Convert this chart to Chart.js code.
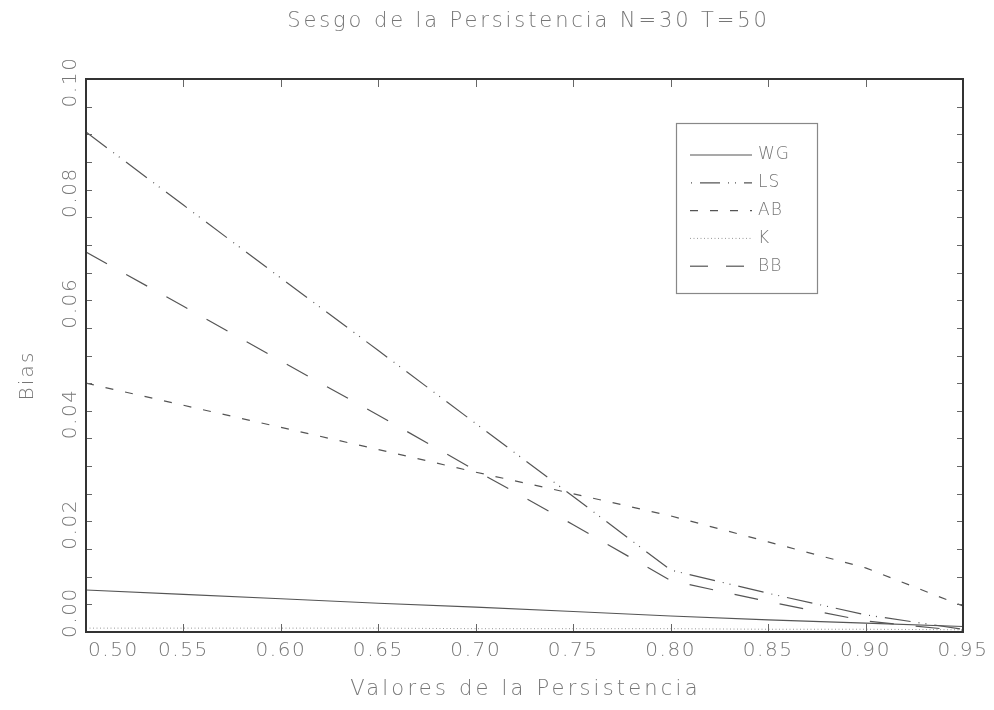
<!DOCTYPE html>
<html>
<head>
<meta charset="utf-8">
<script src="https://cdn.jsdelivr.net/npm/chart.js@4"></script>
<style>
html,body{margin:0;padding:0;background:#fff;}
#wrap{width:994px;height:710px;}
</style>
</head>
<body>
<div id="wrap"><canvas id="c" width="994" height="710"></canvas></div>
<script>
// ---- data ----
const persistence = [0.50, 0.55, 0.60, 0.65, 0.70, 0.75, 0.80, 0.85, 0.90, 0.95];
const WG = [0.0076, 0.0068, 0.0060, 0.0052, 0.0045, 0.0037, 0.0029, 0.0022, 0.0016, 0.0010];
const LS = [0.0904, 0.0772, 0.0640, 0.0509, 0.0377, 0.0245, 0.0112, 0.0070, 0.0031, 0.0005];
const AB = [0.0450, 0.0410, 0.0370, 0.0330, 0.0289, 0.0250, 0.0210, 0.0163, 0.0116, 0.0047];
const K  = [0.0007, 0.0007, 0.0007, 0.0007, 0.0006, 0.0006, 0.0006, 0.0005, 0.0005, 0.0004];
const BB = [0.0687, 0.0589, 0.0490, 0.0392, 0.0292, 0.0194, 0.0093, 0.0055, 0.0020, 0.0002];
const xTickLabels = ['0.50','0.55','0.60','0.65','0.70','0.75','0.80','0.85','0.90','0.95'];
const yTickLabels = ['0.00','0.02','0.04','0.06','0.08','0.10'];
const yMinorTicks = [0.005,0.010,0.015,0.020,0.025,0.030,0.035,0.040,0.045,0.050,0.055,0.060,0.065,0.070,0.075,0.080,0.085,0.090,0.095];
const titleText = 'Sesgo de la Persistencia N=30 T=50';
const xTitle = 'Valores de la Persistencia';
const yTitle = 'Bias';
const seriesNames = ['WG','LS','AB','K','BB'];
const seriesValues = [WG, LS, AB, K, BB];

// ---- styles ----
const FONT = "200 {S}px 'DejaVu Sans', 'Liberation Sans', sans-serif";
const font = s => FONT.replace('{S}', s);
const TEXT = '#767676';
const styles = {
  WG: {dash: [], color: '#555', width: 1.1},
  LS: {dash: [26, 8, 1, 6, 1, 8], color: '#555', width: 1.2},
  AB: {dash: [8, 12], color: '#555', width: 1.2},
  K:  {dash: [1, 2.5], color: '#999', width: 1},
  BB: {dash: [24, 22], color: '#555', width: 1.2}
};

const datasets = seriesNames.map((n, i) => ({
  label: n,
  data: persistence.map((x, j) => ({x: x, y: seriesValues[i][j]})),
  borderColor: styles[n].color,
  borderWidth: styles[n].width,
  borderDash: styles[n].dash,
  pointRadius: 0,
  tension: 0,
  fill: false
}));

function text(ctx, str, x, y, size, align, baseline, rot, spacing) {
  ctx.save();
  ctx.font = font(size);
  ctx.fillStyle = TEXT;
  ctx.textAlign = align;
  ctx.textBaseline = baseline;
  if ('letterSpacing' in ctx) ctx.letterSpacing = (spacing || 0) + 'px';
  ctx.translate(x, y);
  if (rot) ctx.rotate(rot);
  ctx.fillText(str, 0, 0);
  ctx.restore();
}

const decor = {
  id: 'decor',
  afterDraw(chart) {
    const ctx = chart.ctx, a = chart.chartArea;
    const xs = chart.scales.x, ys = chart.scales.y;
    ctx.save();
    // ticks
    ctx.strokeStyle = '#666';
    ctx.lineWidth = 1;
    ctx.setLineDash([]);
    xTickLabels.forEach(l => {
      const px = Math.round(xs.getPixelForValue(parseFloat(l))) + 0.5;
      ctx.beginPath();
      ctx.moveTo(px, a.bottom); ctx.lineTo(px, a.bottom - 8);
      ctx.moveTo(px, a.top); ctx.lineTo(px, a.top + 8);
      ctx.stroke();
    });
    yMinorTicks.forEach(v => {
      const py = Math.round(ys.getPixelForValue(v)) + 0.5;
      ctx.beginPath();
      ctx.moveTo(a.left, py); ctx.lineTo(a.left + 6, py);
      ctx.moveTo(a.right, py); ctx.lineTo(a.right - 6, py);
      ctx.stroke();
    });
    // frame
    ctx.strokeStyle = '#333';
    ctx.lineWidth = 2;
    ctx.strokeRect(a.left, a.top, a.right - a.left, a.bottom - a.top);
    ctx.restore();

    // tick labels
    xTickLabels.forEach((l, i) => {
      const px = xs.getPixelForValue(parseFloat(l));
      if (i === 0) text(ctx, l, px + 2, a.bottom + 19, 20, 'left', 'middle', 0, 1.6);
      else text(ctx, l, px, a.bottom + 19, 20, 'center', 'middle', 0, 1.6);
    });
    yTickLabels.forEach((l, i) => {
      const py = ys.getPixelForValue(parseFloat(l));
      if (i === 0) text(ctx, l, a.left - 15, py + 6, 20, 'left', 'middle', -Math.PI / 2, 1.6);
      else text(ctx, l, a.left - 15, py + 3, 20, 'center', 'middle', -Math.PI / 2, 1.6);
    });
    // titles
    text(ctx, titleText, (a.left + a.right) / 2 + 4, 22, 21, 'center', 'middle', 0, 2.9);
    text(ctx, xTitle, (a.left + a.right) / 2 + 1, a.bottom + 58, 21, 'center', 'middle', 0, 3.2);
    text(ctx, yTitle, 28, (a.top + a.bottom) / 2 + 20, 20, 'center', 'middle', -Math.PI / 2, 2.2);

    // legend
    const lx = a.left + 590, ly = a.top + 44, lw = 141, lh = 170;
    ctx.save();
    ctx.strokeStyle = '#888';
    ctx.lineWidth = 1.2;
    ctx.setLineDash([]);
    ctx.strokeRect(lx + 0.5, ly + 0.5, lw, lh);
    seriesNames.forEach((n, i) => {
      const yy = ly + 32 + i * 27.8;
      ctx.save();
      ctx.strokeStyle = styles[n].color;
      ctx.lineWidth = styles[n].width;
      ctx.setLineDash(n === 'LS' ? [20, 8, 1, 6, 1, 8] : n === 'BB' ? [18, 18] : styles[n].dash);
      ctx.beginPath();
      if (n === 'LS') ctx.lineDashOffset = -10;
      ctx.moveTo(lx + 14, yy);
      ctx.lineTo(lx + 76, yy);
      ctx.stroke();
      ctx.restore();
      text(ctx, n, lx + 82, yy, 17, 'left', 'middle', 0, 1);
    });
    ctx.restore();
  }
};

new Chart(document.getElementById('c'), {
  type: 'line',
  data: {datasets: datasets},
  options: {
    responsive: false,
    animation: false,
    layout: {padding: {left: 86, top: 79, right: 31, bottom: 78}},
    plugins: {legend: {display: false}, title: {display: false}, tooltip: {enabled: false}},
    scales: {
      x: {
        type: 'linear', min: 0.5, max: 0.95,
        grid: {display: false, drawTicks: false}, border: {display: false},
        ticks: {display: false},
        afterFit: s => { s.height = 0; }
      },
      y: {
        type: 'linear', min: 0, max: 0.1,
        grid: {display: false, drawTicks: false}, border: {display: false},
        ticks: {display: false},
        afterFit: s => { s.width = 0; }
      }
    }
  },
  plugins: [decor]
});
</script>
</body>
</html>
